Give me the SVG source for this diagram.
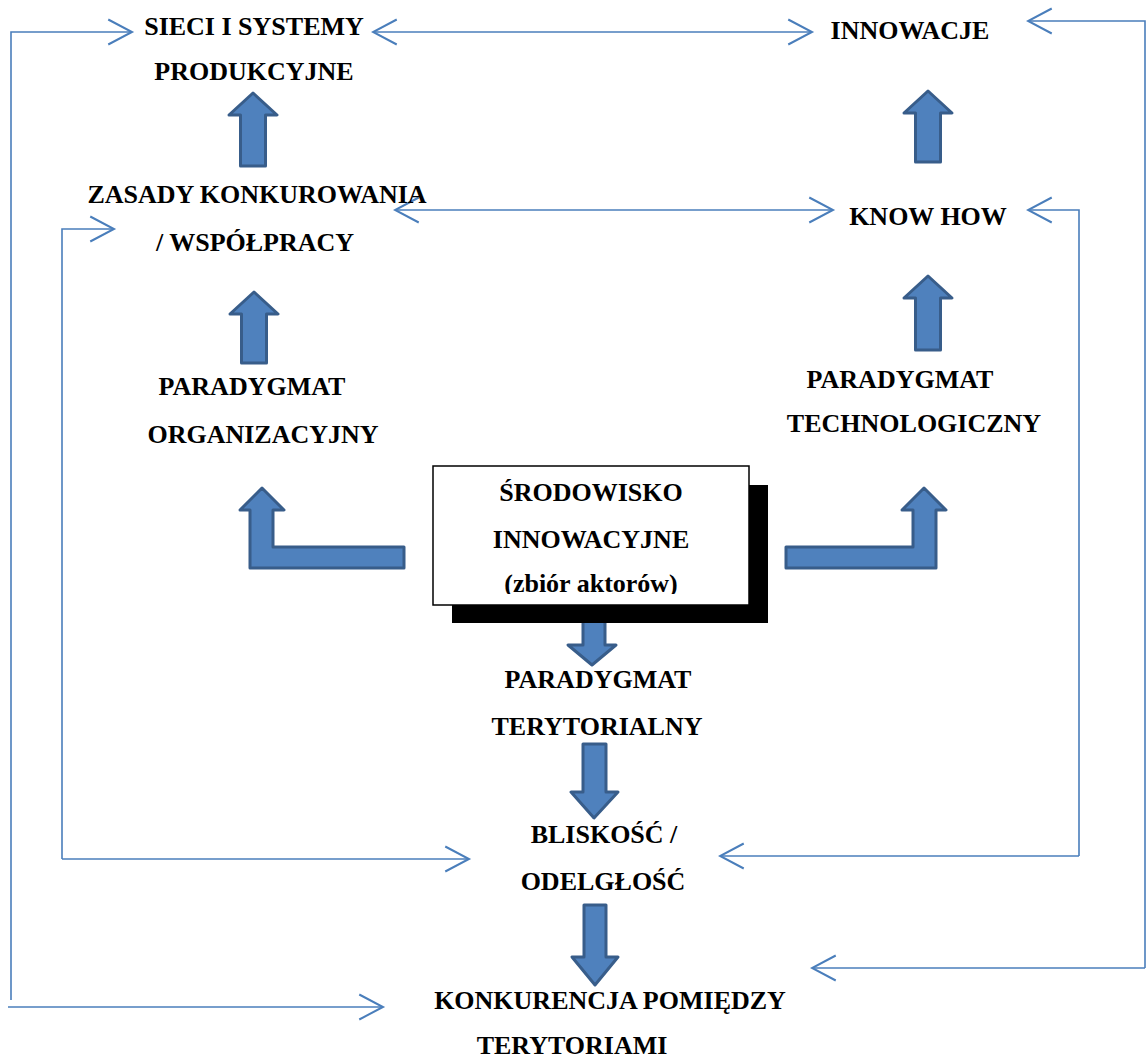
<svg xmlns="http://www.w3.org/2000/svg" width="1147" height="1059" viewBox="0 0 1147 1059">
<style>
.t{font-family:"Liberation Serif","Times New Roman",serif;font-weight:bold;font-size:26px;fill:#000;text-anchor:middle}
.ln{fill:none;stroke:#4A7EBB;stroke-width:1.6}
.ba{fill:#4F81BD;stroke:#385D8A;stroke-width:3;stroke-linejoin:round}
</style>
<defs>
<marker id="ah" markerUnits="userSpaceOnUse" markerWidth="30" markerHeight="30" viewBox="-22 -12 24 24" refX="0" refY="0" orient="auto-start-reverse">
<path d="M-19,-10 L0,0 L-19,10" fill="none" stroke="#4A7EBB" stroke-width="1.6"/>
</marker>
<clipPath id="boxclip"><rect x="433" y="466" width="316" height="128"/></clipPath>
</defs>

<g id="connectors">
<line class="ln" x1="373" y1="32" x2="812" y2="32" marker-start="url(#ah)" marker-end="url(#ah)"/>
<polyline class="ln" points="11,1000 11,32 132,32" marker-end="url(#ah)"/>
<line class="ln" x1="8" y1="1007" x2="383" y2="1007" marker-end="url(#ah)"/>
<polyline class="ln" points="1145,968 1145,21 1028,21" marker-end="url(#ah)"/>
<line class="ln" x1="1145" y1="968" x2="812" y2="968" marker-end="url(#ah)"/>
<line class="ln" x1="395" y1="210" x2="833" y2="210" marker-start="url(#ah)" marker-end="url(#ah)"/>
<polyline class="ln" points="62,859 62,229 114,229" marker-end="url(#ah)"/>
<line class="ln" x1="62" y1="859" x2="469" y2="859" marker-end="url(#ah)"/>
<polyline class="ln" points="1079,856 1079,210 1028,210" marker-end="url(#ah)"/>
<line class="ln" x1="1079" y1="856" x2="720" y2="856" marker-end="url(#ah)"/>
</g>

<g id="block-arrows">
<polygon class="ba" points="253,93 277,115 265.5,115 265.5,166 240.5,166 240.5,115 229,115"/>
<polygon class="ba" points="254,292 278,314 266.5,314 266.5,363 241.5,363 241.5,314 230,314"/>
<polygon class="ba" points="928,91 952,113 940.5,113 940.5,162 915.5,162 915.5,113 904,113"/>
<polygon class="ba" points="928,276 952,298 940.5,298 940.5,350 915.5,350 915.5,298 904,298"/>
<polygon class="ba" points="262,488 284,510 273,510 273,547 404,547 404,568 250,568 250,510 240,510"/>
<polygon class="ba" points="924,488 946,510 936,510 936,568 786,568 786,547 913,547 913,510 902,510"/>
<polygon class="ba" points="583,612 605,612 605,645 616,645 592,665 568,645 583,645"/>
<polygon class="ba" points="583,744 606,744 606,792 618,792 594,818 571,792 583,792"/>
<polygon class="ba" points="584,905 606,905 606,957 618,957 595,985 572,957 584,957"/>
</g>

<g id="node-srodowisko">
<rect x="452" y="485" width="316" height="138" fill="#000"/>
<rect x="433" y="466" width="316" height="139" fill="#fff" stroke="#000" stroke-width="1.5"/>
<g clip-path="url(#boxclip)">
<text class="t" x="591" y="501">ŚRODOWISKO</text>
<text class="t" x="591" y="548">INNOWACYJNE</text>
<text class="t" x="591" y="592">(zbiór aktorów)</text>
</g>
</g>

<g id="node-sieci">
<text class="t" x="254" y="35">SIECI I SYSTEMY</text>
<text class="t" x="254" y="80">PRODUKCYJNE</text>
</g>
<g id="node-innowacje">
<text class="t" x="910" y="39">INNOWACJE</text>
</g>
<g id="node-zasady">
<text class="t" x="257" y="203">ZASADY KONKUROWANIA</text>
<text class="t" x="255" y="251">/ WSPÓŁPRACY</text>
</g>
<g id="node-knowhow">
<text class="t" x="928" y="225">KNOW HOW</text>
</g>
<g id="node-par-org">
<text class="t" x="252" y="395">PARADYGMAT</text>
<text class="t" x="263" y="443">ORGANIZACYJNY</text>
</g>
<g id="node-par-tech">
<text class="t" x="900" y="388">PARADYGMAT</text>
<text class="t" x="914" y="432">TECHNOLOGICZNY</text>
</g>
<g id="node-par-ter">
<text class="t" x="598" y="688">PARADYGMAT</text>
<text class="t" x="597" y="735">TERYTORIALNY</text>
</g>
<g id="node-bliskosc">
<text class="t" x="604" y="843">BLISKOŚĆ /</text>
<text class="t" x="603" y="890">ODELGŁOŚĆ</text>
</g>
<g id="node-konkurencja">
<text class="t" x="610" y="1009">KONKURENCJA POMIĘDZY</text>
<text class="t" x="572" y="1054">TERYTORIAMI</text>
</g>
</svg>
